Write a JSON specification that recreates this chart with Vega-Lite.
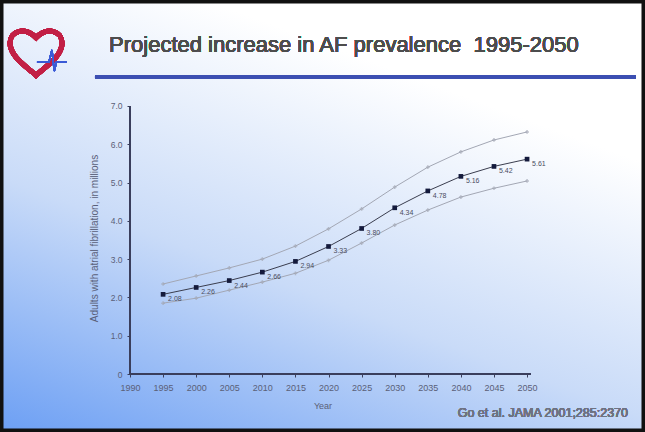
{
  "$schema": "https://vega.github.io/schema/vega-lite/v6.json",
  "width": 645,
  "height": 432,
  "autosize": {"type": "none"},
  "padding": 0,
  "background": "#ffffff",
  "view": {
    "fill": {
      "gradient": "linear",
      "x1": 0, "y1": 1, "x2": 0.5, "y2": 0.1,
      "stops": [
        {"offset": 0, "color": "#6c9ff4"},
        {"offset": 0.5, "color": "#c9dbf8"},
        {"offset": 1, "color": "#ffffff"}
      ]
    },
    "stroke": "#111111",
    "strokeWidth": 7
  },
  "config": {
    "font": "Liberation Sans",
    "axis": {
      "grid": false,
      "domain": false,
      "labelFont": "Liberation Sans",
      "titleFont": "Liberation Sans",
      "labelColor": "#5a5f78",
      "titleColor": "#5a5f78",
      "tickColor": "#3b3f5c",
      "titleFontWeight": "normal"
    }
  },
  "data": {
    "values": [
      {"year": 1995, "est": 2.08, "lower": 1.85, "upper": 2.35},
      {"year": 2000, "est": 2.26, "lower": 1.98, "upper": 2.56},
      {"year": 2005, "est": 2.44, "lower": 2.19, "upper": 2.77},
      {"year": 2010, "est": 2.66, "lower": 2.40, "upper": 3.00},
      {"year": 2015, "est": 2.94, "lower": 2.63, "upper": 3.34},
      {"year": 2020, "est": 3.33, "lower": 2.97, "upper": 3.79},
      {"year": 2025, "est": 3.80, "lower": 3.42, "upper": 4.31},
      {"year": 2030, "est": 4.34, "lower": 3.89, "upper": 4.88},
      {"year": 2035, "est": 4.78, "lower": 4.28, "upper": 5.40},
      {"year": 2040, "est": 5.16, "lower": 4.62, "upper": 5.80},
      {"year": 2045, "est": 5.42, "lower": 4.85, "upper": 6.11},
      {"year": 2050, "est": 5.61, "lower": 5.04, "upper": 6.32}
    ]
  },
  "encoding": {
    "x": {
      "field": "year",
      "type": "quantitative",
      "scale": {"domain": [1970.356, 2067.82], "nice": false, "zero": false},
      "axis": {
        "orient": "bottom",
        "offset": -58,
        "values": [1990, 1995, 2000, 2005, 2010, 2015, 2020, 2025, 2030, 2035, 2040, 2045, 2050],
        "format": "d",
        "labelFontSize": 9,
        "tickSize": 3,
        "labelPadding": 6,
        "title": "Year",
        "titleFontSize": 9,
        "titlePadding": 9
      }
    },
    "y": {
      "type": "quantitative",
      "scale": {"domain": [-1.514, 9.765], "nice": false, "zero": false},
      "axis": {
        "orient": "left",
        "offset": -130,
        "values": [0, 1, 2, 3, 4, 5, 6, 7],
        "labelExpr": "datum.value == 0 ? '0' : format(datum.value, '.1f')",
        "labelFontSize": 8.5,
        "tickSize": 3,
        "labelPadding": 5,
        "title": "Adults with atrial fibrillation, in millions",
        "titleFontSize": 10,
        "titleY": 238,
        "titlePadding": 11
      }
    }
  },
  "layer": [
    {
      "mark": {"type": "rule", "color": "#3b3f5c", "strokeWidth": 1.5},
      "encoding": {
        "x": {"datum": 1990, "type": "quantitative"},
        "y": {"datum": 0, "type": "quantitative"},
        "y2": {"datum": 7}
      }
    },
    {
      "mark": {"type": "rule", "color": "#3b3f5c", "strokeWidth": 1.5},
      "encoding": {
        "x": {"datum": 1990, "type": "quantitative"},
        "x2": {"datum": 2050.5},
        "y": {"datum": 0, "type": "quantitative"}
      }
    },
    {
      "mark": {"type": "line", "color": "#a3a7b4", "strokeWidth": 1},
      "encoding": {"y": {"field": "upper"}}
    },
    {
      "mark": {"type": "point", "shape": "cross", "filled": true, "color": "#a3a7b4", "size": 14},
      "encoding": {"y": {"field": "upper"}}
    },
    {
      "mark": {"type": "line", "color": "#a3a7b4", "strokeWidth": 1},
      "encoding": {"y": {"field": "lower"}}
    },
    {
      "mark": {"type": "point", "shape": "cross", "filled": true, "color": "#a3a7b4", "size": 14},
      "encoding": {"y": {"field": "lower"}}
    },
    {
      "mark": {"type": "line", "color": "#3a3d4e", "strokeWidth": 1},
      "encoding": {"y": {"field": "est"}}
    },
    {
      "mark": {"type": "point", "shape": "square", "filled": true, "color": "#141a3c", "size": 22, "opacity": 1},
      "encoding": {"y": {"field": "est"}}
    },
    {
      "mark": {"type": "text", "align": "left", "baseline": "middle", "dx": 5, "dy": 5, "fontSize": 7, "color": "#4a4d5e"},
      "encoding": {
        "y": {"field": "est"},
        "text": {"field": "est", "type": "quantitative", "format": ".2f"}
      }
    },
    {
      "mark": {"type": "rule", "color": "#3c4fb2", "strokeWidth": 3.5},
      "encoding": {
        "x": {"datum": 1984.71, "type": "quantitative"},
        "x2": {"datum": 2066.46},
        "y": {"datum": 7.755, "type": "quantitative"}
      }
    },
    {
      "mark": {"type": "text", "align": "left", "baseline": "middle", "fontSize": 22, "color": "#4d4d4d", "font": "Liberation Sans"},
      "encoding": {
        "x": {"datum": 1986.83, "type": "quantitative"},
        "y": {"datum": 8.59, "type": "quantitative"},
        "text": {"value": "Projected increase in AF prevalence \u00a01995-2050"}
      }
    },
    {
      "mark": {"type": "text", "align": "right", "baseline": "middle", "fontSize": 12.5, "color": "#6e7282", "font": "Liberation Sans"},
      "encoding": {
        "x": {"datum": 2065.25, "type": "quantitative"},
        "y": {"datum": -1.018, "type": "quantitative"},
        "text": {"value": "Go et al. JAMA 2001;285:2370"}
      }
    },
    {
      "mark": {
        "type": "point",
        "shape": "M0,0.9 C-0.3,0.6 -1,0.2 -1,-0.35 C-1,-0.8 -0.45,-1 0,-0.55 C0.45,-1 1,-0.8 1,-0.35 C1,0.2 0.3,0.6 0,0.9 Z",
        "filled": false,
        "stroke": "#c21f45",
        "strokeWidth": 5,
        "size": 2700,
        "opacity": 1
      },
      "encoding": {
        "x": {"datum": 1975.8, "type": "quantitative"},
        "y": {"datum": 8.407, "type": "quantitative"}
      }
    },
    {
      "mark": {
        "type": "point",
        "shape": "M-1,0 L-0.2,0 L0,-0.8 L0.15,0.6 L0.3,0 L1,0",
        "filled": false,
        "stroke": "#3b5bd6",
        "strokeWidth": 1.5,
        "size": 900,
        "opacity": 1
      },
      "encoding": {
        "x": {"datum": 1978.21, "type": "quantitative"},
        "y": {"datum": 8.146, "type": "quantitative"}
      }
    }
  ]
}
